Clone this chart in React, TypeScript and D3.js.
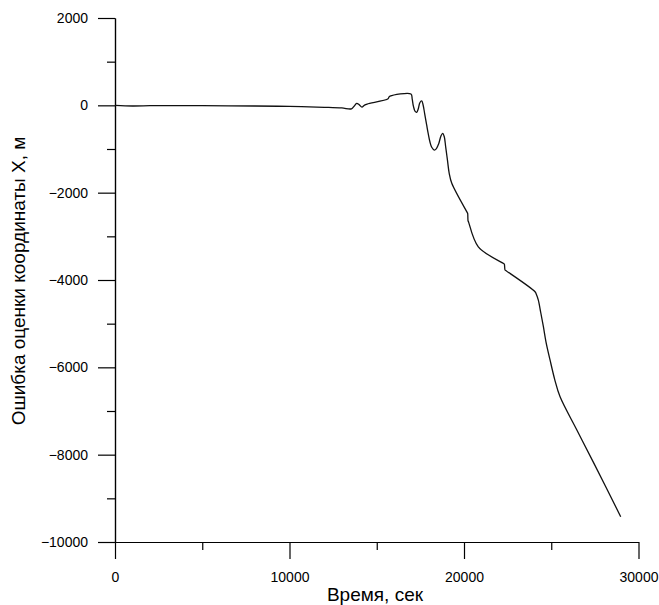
import React, { useRef, useEffect } from "react";
import * as d3 from "d3";

// time, seconds
const timeSec = [
  0, 1000, 2000, 3000, 5000, 8000, 10000, 12000, 13000, 13550, 13700, 13850,
  14000, 14150, 14300, 14450, 15650, 15700, 15760, 16960, 17030, 17100, 17200,
  17290, 17380, 17470, 17575, 17650, 17750, 17860, 17950, 18050, 18150, 18300,
  18420, 18550, 18680, 18780, 18870, 18950, 19050, 19150, 19300, 20180, 20210,
  20230, 20260, 20820, 22270, 22310, 22350, 22390, 24070, 24150, 24260, 24400,
  24550, 24700, 24930, 25200, 25500, 26460, 27410, 28980,
];
// X coordinate estimate error, m
const errorX = [
  0, -15, -8, -5, -8, -15, -25, -45, -60, -80, -20, 45,
  10, -40, 5, 30, 150, 190, 210, 260, 150, -20, -140,
  -160, -80, 60, 100, 20, -200, -450, -650, -840, -960, -1025,
  -990, -880, -700, -640, -720, -950, -1250, -1550, -1785, -2452, -2475,
  -2640, -2670, -3240, -3624, -3635, -3770, -3782, -4270, -4330, -4460, -4750,
  -5070, -5420, -5830, -6280, -6670, -7430, -8170, -9420,
];

const xMajor = [0, 10000, 20000, 30000];
const xMinor = [5000, 15000, 25000];
const yMajor = [-10000, -8000, -6000, -4000, -2000, 0, 2000];
const yMinor = [-9000, -7000, -5000, -3000, -1000, 1000];

const W = 659;
const H = 605;

function App() {
  const svgRef = useRef<SVGSVGElement>(null);

  useEffect(() => {
    const svg = d3.select(svgRef.current);
    svg.selectAll("*").remove();

    const x = d3.scaleLinear().domain([0, 30000]).range([115, 638.5]);
    const y = d3.scaleLinear().domain([-10000, 2000]).range([542, 18]);

    const font = "'Liberation Sans', Arial, sans-serif";

    // minor ticks
    svg.append("g")
      .attr("transform", `translate(0,${y(-10000)})`)
      .call(d3.axisBottom(x).tickValues(xMinor).tickSize(8).tickSizeOuter(0).tickFormat(() => ""));
    svg.append("g")
      .attr("transform", `translate(${x(0)},0)`)
      .call(d3.axisLeft(y).tickValues(yMinor).tickSize(8).tickSizeOuter(0).tickFormat(() => ""));

    // major ticks with labels
    const gx = svg.append("g")
      .attr("transform", `translate(0,${y(-10000)})`)
      .call(d3.axisBottom(x).tickValues(xMajor).tickSize(17).tickSizeOuter(0).tickPadding(13).tickFormat(d3.format("d")));
    const gy = svg.append("g")
      .attr("transform", `translate(${x(0)},0)`)
      .call(d3.axisLeft(y).tickValues(yMajor).tickSize(17).tickSizeOuter(0).tickPadding(10).tickFormat(d3.format("d")));

    svg.selectAll(".domain, .tick line").attr("stroke", "#000").attr("stroke-width", 1.2);
    [gx, gy].forEach((g) =>
      g.selectAll("text").attr("fill", "#000").style("font-family", font).style("font-size", "14px")
    );

    const pts = timeSec.map((t, i) => [t, errorX[i]] as [number, number]);
    const line = d3.line<[number, number]>()
      .x((d) => x(d[0]))
      .y((d) => y(d[1]))
      .curve(d3.curveCatmullRom.alpha(0.5));

    svg.append("path")
      .datum(pts)
      .attr("d", line)
      .attr("fill", "none")
      .attr("stroke", "#111")
      .attr("stroke-width", 1.3);

    svg.append("text")
      .attr("x", 375)
      .attr("y", 601)
      .attr("text-anchor", "middle")
      .style("font-family", font)
      .style("font-size", "19px")
      .text("Время, сек");

    svg.append("text")
      .attr("transform", "translate(25,281) rotate(-90)")
      .attr("text-anchor", "middle")
      .style("font-family", font)
      .style("font-size", "19px")
      .text("Ошибка оценки координаты X, м");
  }, []);

  return (
    <div style={{ position: "absolute", left: 0, top: 0, width: W, height: H, background: "#fff" }}>
      <svg ref={svgRef} width={W} height={H}></svg>
    </div>
  );
}

export default App;
